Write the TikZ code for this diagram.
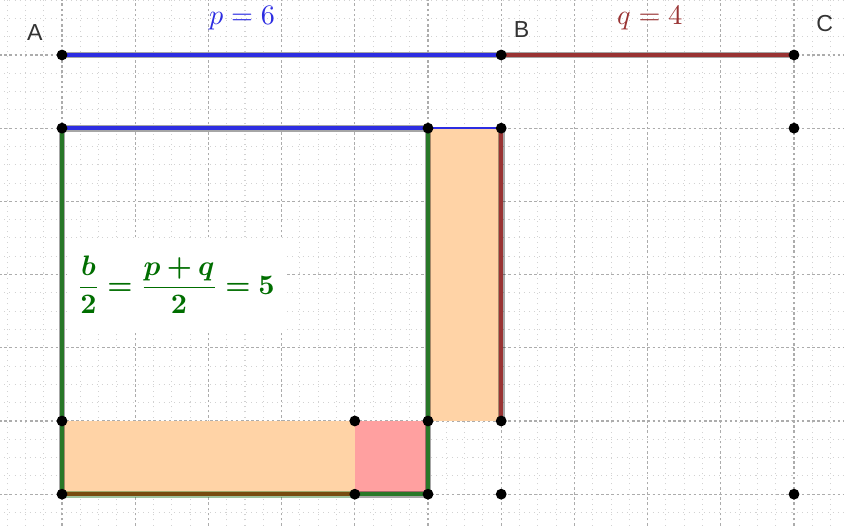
\documentclass[tikz,border=0pt]{standalone}
\usepackage{amsmath,amssymb,bm}
\usepackage{xcolor}
\usepackage{fontspec}
\newfontfamily\ptfont{Liberation Sans}
\usepackage{tikz}
\usetikzlibrary{positioning}
\definecolor{ggblue}{RGB}{45,45,225}
\definecolor{ggred}{RGB}{153,51,51}
\definecolor{gggreen}{RGB}{40,120,40}
\definecolor{ggtext}{RGB}{0,110,0}
\definecolor{ggorange}{RGB}{255,211,166}
\definecolor{ggpink}{RGB}{255,160,160}
\definecolor{ggbrown}{RGB}{120,75,15}
\tikzset{
  minorgrid/.style={gray!35,line width=0.4pt,dash pattern=on 0.4pt off 1.6pt},
  majorgrid/.style={gray!65,line width=0.5pt,dash pattern=on 1pt off 1pt},
  seg/.style={line width=1.6pt,preaction={draw,line width=2.6pt,opacity=0.35}},
  pt/.style={circle,fill=black,inner sep=0pt,minimum size=4.2pt},
  lbl/.style={font=\ptfont\fontsize{9}{10}\selectfont,text=black!80},
  val/.style={font=\fontsize{11}{13}\selectfont},
  formula/.style={fill=white,text=ggtext,font=\fontsize{10.6}{13}\selectfont,minimum width=2.98cm,minimum height=1.23cm},
}

\begin{document}
\begin{tikzpicture}
\useasboundingbox (-0.847,-6.434) rectangle (10.683,0.751);
\clip (-0.847,-6.434) rectangle (10.683,0.751);
% grid
\draw[minorgrid] (-1,-6.5) grid[step=0.25] (10.75,0.75);
\draw[majorgrid] (-1,-6.5) grid[step=1] (10.75,0.75);
% points
\coordinate (A) at (0,0);
\coordinate (B) at (6,0);
\coordinate (C) at (10,0);
\coordinate (D) at (0,-1);
\coordinate (E) at (5,-1);
\coordinate (F) at (6,-1);
\coordinate (G) at (10,-1);
\coordinate (H) at (0,-5);
\coordinate (I) at (4,-5);
\coordinate (J) at (5,-5);
\coordinate (K) at (6,-5);
\coordinate (L) at (0,-6);
\coordinate (M) at (4,-6);
\coordinate (N) at (5,-6);
\coordinate (O) at (6,-6);
\coordinate (P) at (10,-6);
% areas
\fill[ggorange] (E) rectangle (K);
\fill[ggorange] (H) rectangle (M);
\fill[ggpink] (I) rectangle (N);
% segments
\draw[seg,ggblue] (A) -- (B);
\draw[seg,ggred] (B) -- (C);
\draw[seg,ggblue] (D) -- (E);
\draw[ggblue,line width=0.9pt] (E) -- (F);
\draw[seg,ggred] (F) -- (K);
\draw[seg,gggreen] (D) -- (L);
\draw[seg,gggreen] (E) -- (N);
\draw[seg,gggreen] (M) -- (N);
\draw[gggreen,line width=2.6pt,opacity=0.45] (L) -- (M);
\draw[ggbrown,line width=1.6pt] (L) -- (M);
\foreach \q in {A,B,C,D,E,F,G,H,I,J,K,L,M,N,O,P}
  \node[pt] at (\q) {};
% labels
\node[lbl] (labA) at (-0.37,0.31) {A};
\node[lbl] (labB) at (6.28,0.35) {B};
\node[lbl] (labC) at (10.42,0.43) {C};
\node[val,text=ggblue] (labp) at (2.46,0.5) {$p=6$};
\node[val,text=ggred] (labq) at (8.03,0.5) {$q=4$};
\node[formula] (half) at (1.557,-3.142) {$\displaystyle\frac{\bm{b}}{\bm{2}}\bm{=}\frac{\bm{p}\bm{+}\bm{q}}{\bm{2}}\bm{=}\bm{5}$};
\end{tikzpicture}
\end{document}
